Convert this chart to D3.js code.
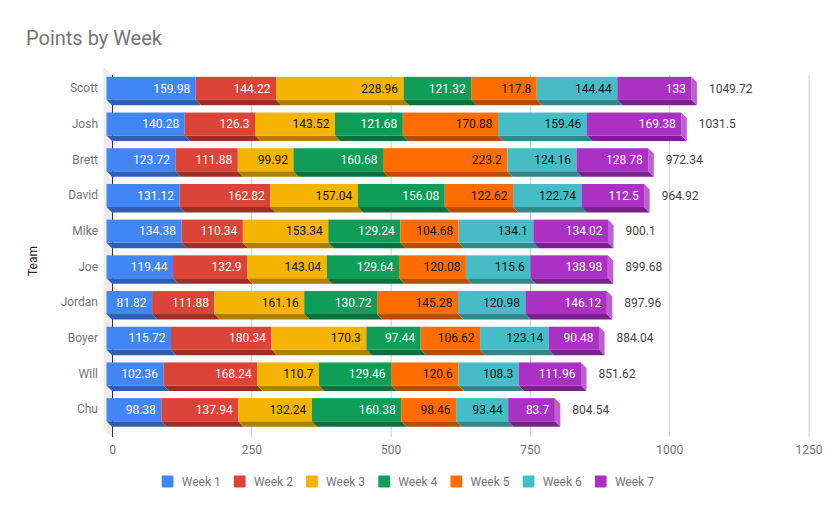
<!DOCTYPE html>
<html>
<head>
<meta charset="utf-8">
<script src="https://cdn.jsdelivr.net/npm/d3@7"></script>
<style>
  html, body { margin: 0; padding: 0; background: #fff; }
  svg { display: block; font-family: Roboto, "Noto Sans", sans-serif; }
</style>
</head>
<body>
<script>
// 데이터
const teams = ['Scott', 'Josh', 'Brett', 'David', 'Mike', 'Joe', 'Jordan', 'Boyer', 'Will', 'Chu'];
const weeks = ['Week 1', 'Week 2', 'Week 3', 'Week 4', 'Week 5', 'Week 6', 'Week 7'];
const week1 = [159.98, 140.28, 123.72, 131.12, 134.38, 119.44, 81.82, 115.72, 102.36, 98.38];
const week2 = [144.22, 126.3, 111.88, 162.82, 110.34, 132.9, 111.88, 180.34, 168.24, 137.94];
const week3 = [228.96, 143.52, 99.92, 157.04, 153.34, 143.04, 161.16, 170.3, 110.7, 132.24];
const week4 = [121.32, 121.68, 160.68, 156.08, 129.24, 129.64, 130.72, 97.44, 129.46, 160.38];
const week5 = [117.8, 170.88, 223.2, 122.62, 104.68, 120.08, 145.28, 106.62, 120.6, 98.46];
const week6 = [144.44, 159.46, 124.16, 122.74, 134.1, 115.6, 120.98, 123.14, 108.3, 93.44];
const week7 = [133, 169.38, 128.78, 112.5, 134.02, 138.98, 146.12, 90.48, 111.96, 83.7];
const xTicks = [0, 250, 500, 750, 1000, 1250];

const colors = ['#4285f4', '#db4437', '#f4b400', '#0f9d58', '#ff6d00', '#46bdc6', '#ab30c4'];
const labelColors = ['#fff', '#fff', '#111', '#fff', '#111', '#111', '#fff'];

const object = createSVG();
defineData();
setBaseValue();
drawTitle(object);
drawWall(object);
drawXAxis(object);   // X축 눈금 + 격자
drawYAxis(object);   // Y축 팀 이름
drawBars(object);    // 3D 누적 막대
drawLegend(object);

function createSVG(){
  return d3.select(document.body)
    .append('svg').attr('id', 'idsvg')
    .attr('width', 834).attr('height', 515);
}

function defineData(){
  window.base = {};
  const series = [week1, week2, week3, week4, week5, week6, week7];
  base.rows = teams.map((team, i) => {
    const row = {team: team};
    weeks.forEach((w, j) => row[w] = series[j][i]);
    return row;
  });
  base.stack = d3.stack().keys(weeks)(base.rows);
}

function setBaseValue(){
  base.depth = 5.5;       // 막대 두께 (앞면이 왼쪽 위로 이동)
  base.wallDepth = 8.5;
  base.top = 76;
  base.bottom = 433;
  base.xScale = d3.scaleLinear().domain([0, 1250]).range([112, 808.5]);
  base.yScale = d3.scaleBand().domain(teams)
    .range([base.top, base.bottom])
    .paddingInner(0.355).paddingOuter(0.1775);
}

function drawTitle(object){
  object.append('text')
    .attr('x', 26).attr('y', 44.5)
    .attr('fill', '#757575')
    .style('font-size', '20px')
    .text('Points by Week');

  object.append('text')
    .attr('transform', 'translate(37, 261) rotate(-90)')
    .attr('text-anchor', 'middle')
    .attr('fill', '#222')
    .style('font-size', '12px')
    .text('Team');
}

function drawWall(object){
  const x0 = base.xScale(0);
  const w = base.wallDepth;
  const pts = [[x0, base.top - 1], [x0 - w, base.top - 9], [x0 - w, base.bottom - 3], [x0, base.bottom + 4]];
  object.append('polygon')
    .attr('points', pts.map(p => p.join(',')).join(' '))
    .attr('fill', '#ececec');
}

function drawXAxis(object){
  const gridTop = base.top - 1;
  const gridBottom = base.bottom + 4;
  const xAxis = d3.axisBottom(base.xScale)
    .tickValues(xTicks)
    .tickFormat(d3.format('d'))
    .tickSize(-(gridBottom - gridTop))
    .tickPadding(8);
  const g = object.append('g')
    .attr('class', 'axis')
    .attr('transform', `translate(0, ${gridBottom})`)
    .call(xAxis);
  g.select('.domain').remove();
  g.selectAll('.tick line')
    .attr('stroke', d => d === 0 ? '#333' : '#cccccc');
  g.selectAll('.tick text')
    .attr('fill', '#757575')
    .style('font-size', '12px')
    .style('font-family', 'Roboto');
}

function drawYAxis(object){
  const yAxis = d3.axisLeft(base.yScale).tickSize(0).tickPadding(0);
  const g = object.append('g')
    .attr('class', 'axis')
    .attr('transform', `translate(98, ${-base.depth})`)
    .call(yAxis);
  g.select('.domain').remove();
  g.selectAll('.tick text')
    .attr('fill', '#757575')
    .style('font-size', '12px')
    .style('font-family', 'Roboto');
}

function drawBars(object){
  const x = base.xScale, y = base.yScale, d = base.depth;
  const h = y.bandwidth();
  const g = object.append('g');

  base.stack.forEach((layer, j) => {
    const c = d3.color(colors[j]);
    const dark = c.darker(0.95).formatHex();
    const light = d3.interpolateRgb(colors[j], '#fff')(0.22);
    layer.forEach(seg => {
      const team = seg.data.team;
      const x0 = x(seg[0]) - d, x1 = x(seg[1]) - d;
      const yt = y(team) - d, yb = yt + h;
      // 아래면
      g.append('polygon')
        .attr('points', `${x0},${yb} ${x1},${yb} ${x1 + d},${yb + d} ${x0 + d},${yb + d}`)
        .attr('fill', dark);
      // 마지막 구간은 오른쪽 옆면
      if (j === weeks.length - 1) {
        g.append('polygon')
          .attr('points', `${x1},${yt} ${x1 + d},${yt + d} ${x1 + d},${yb + d} ${x1},${yb}`)
          .attr('fill', light);
      }
      // 앞면
      g.append('rect')
        .attr('x', x0).attr('y', yt)
        .attr('width', x1 - x0).attr('height', h)
        .attr('fill', colors[j]);
      g.append('text')
        .attr('x', x1 - 5.5).attr('y', yt + h / 2)
        .attr('dy', '0.35em')
        .attr('text-anchor', 'end')
        .attr('fill', labelColors[j])
        .style('font-size', '12px')
        .text(String(seg.data[weeks[j]]));
    });
  });

  // 합계
  base.rows.forEach(row => {
    const total = +d3.sum(weeks, w => row[w]).toFixed(2);
    g.append('text')
      .attr('x', x(total) + 12)
      .attr('y', y(row.team) - d + h / 2)
      .attr('dy', '0.35em')
      .attr('fill', '#444')
      .style('font-size', '12px')
      .text(String(total));
  });
}

function drawLegend(object){
  const g = object.append('g').attr('transform', 'translate(161.7, 481.5)');
  const item = g.selectAll('g').data(weeks).enter().append('g')
    .attr('transform', (w, i) => `translate(${i * 72.2}, 0)`);
  item.append('rect')
    .attr('x', 0).attr('y', -6)
    .attr('width', 11.7).attr('height', 12)
    .attr('rx', 1)
    .attr('fill', (w, i) => colors[i]);
  item.append('text')
    .attr('x', 20).attr('y', 0)
    .attr('dy', '0.35em')
    .attr('fill', '#757575')
    .style('font-size', '12px')
    .text(w => w);
}
</script>
</body>
</html>
